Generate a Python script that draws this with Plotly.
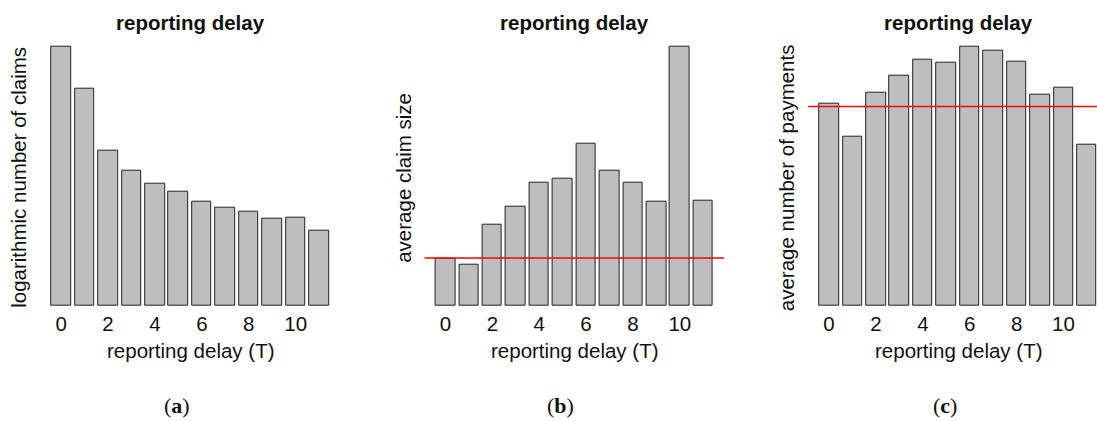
import plotly.graph_objects as go

# Reporting delay categories (T)
delays = list(range(12))
tick_vals = [0, 2, 4, 6, 8, 10]
tick_text = ["0", "2", "4", "6", "8", "10"]

# (a) logarithmic number of claims per reporting delay
log_claims = [13.0, 10.91, 7.81, 6.80, 6.15, 5.73, 5.23, 4.94, 4.72, 4.36, 4.41, 3.79]

# (b) average claim size per reporting delay, with the overall average
avg_claim_size = [1820, 1598, 3144, 3840, 4755, 4910, 6276, 5206, 4742, 4021, 10000, 4072]
avg_claim_size_overall = 1840

# (c) average number of payments per reporting delay, with the overall average
avg_payments = [1.562, 1.307, 1.647, 1.781, 1.902, 1.881, 2.0, 1.969, 1.884, 1.634, 1.683, 1.247]
avg_payments_overall = 1.541

W, H = 1097, 421
FONT = "Liberation Sans, Arial, Helvetica, sans-serif"
FS = 20.5
BAR_FILL = "#bebebe"
BAR_EDGE = "#222222"

fig = go.Figure()

panels = [
    dict(y=log_claims, ylab="logarithmic number of claims", ref=None,
         dom=(40.2, 340.1), xr=[-0.89, 11.89], cap="a", ylab_x=18.3),
    dict(y=avg_claim_size, ylab="average claim size", ref=avg_claim_size_overall,
         dom=(424.6, 724.1), xr=[-0.89, 11.89], cap="b", ylab_x=403.3),
    dict(y=avg_payments, ylab="average number of payments", ref=avg_payments_overall,
         dom=(808.2, 1097.0), xr=[-0.89, 11.43], cap="c", ylab_x=786.7),
]

# plot region in pixels (top, bottom)
reg_top, reg_bot = 36.7, 316.0
ydom = [1 - reg_bot / H, 1 - reg_top / H]
# line from which the tick labels hang
tick_line_px = 309.5

annotations = []
shapes = []
for i, p in enumerate(panels, start=1):
    xa = "x" if i == 1 else f"x{i}"
    ya = "y" if i == 1 else f"y{i}"
    fig.add_trace(go.Bar(
        x=delays, y=p["y"], width=1 / 1.2,
        marker=dict(color=BAR_FILL, line=dict(color=BAR_EDGE, width=1)),
        xaxis=xa, yaxis=ya, showlegend=False, hoverinfo="x+y",
    ))
    ymax = max(p["y"])
    dom = [p["dom"][0] / W, p["dom"][1] / W]
    # region center (full width before clipping at the page edge)
    full_right = p["dom"][0] + 299.7
    cx = (p["dom"][0] + full_right) / 2 / W
    xkey = "xaxis" if i == 1 else f"xaxis{i}"
    ykey = "yaxis" if i == 1 else f"yaxis{i}"
    fig.update_layout(**{
        xkey: dict(domain=dom, range=p["xr"], anchor="free",
                   position=1 - tick_line_px / H, tickmode="array",
                   tickvals=tick_vals, ticktext=tick_text, ticks="",
                   showline=False, showgrid=False, zeroline=False,
                   tickfont=dict(family=FONT, size=FS, color="#111")),
        ykey: dict(domain=ydom, range=[-0.04 * ymax, 1.04 * ymax], anchor=xa,
                   showticklabels=False, ticks="", showline=False,
                   showgrid=False, zeroline=False),
    })
    if p["ref"] is not None:
        shapes.append(dict(type="line", xref=f"{xa} domain", yref=ya,
                           x0=0, x1=1, y0=p["ref"], y1=p["ref"],
                           line=dict(color="red", width=1.5)))
    # panel title
    annotations.append(dict(text="<b>reporting delay</b>", x=cx, y=1 - 22.7 / H,
                            xref="paper", yref="paper", showarrow=False,
                            xanchor="center", yanchor="middle",
                            font=dict(family=FONT, size=FS, color="#111")))
    # x axis title
    annotations.append(dict(text="reporting delay (T)", x=cx, y=1 - 350 / H,
                            xref="paper", yref="paper", showarrow=False,
                            xanchor="center", yanchor="middle",
                            font=dict(family=FONT, size=FS, color="#111")))
    # y axis title
    annotations.append(dict(text=p["ylab"], x=p["ylab_x"] / W, y=1 - 177.5 / H,
                            xref="paper", yref="paper", showarrow=False,
                            textangle=-90, xanchor="center", yanchor="middle",
                            font=dict(family=FONT, size=FS, color="#111")))

# sub-figure captions
for lab, px in (("a", 176.7), ("b", 560.0), ("c", 945.0)):
    annotations.append(dict(text=f"(<b>{lab}</b>)", x=px / W, y=1 - 405 / H,
                            xref="paper", yref="paper", showarrow=False,
                            xanchor="center", yanchor="middle",
                            font=dict(family="Liberation Serif, Times New Roman, serif",
                                      size=22, color="#111")))

fig.update_layout(
    width=W, height=H,
    margin=dict(l=0, r=0, t=0, b=0),
    paper_bgcolor="white", plot_bgcolor="white",
    bargap=0, annotations=annotations, shapes=shapes,
    font=dict(family=FONT, size=FS),
)

fig.write_html("out.html")
